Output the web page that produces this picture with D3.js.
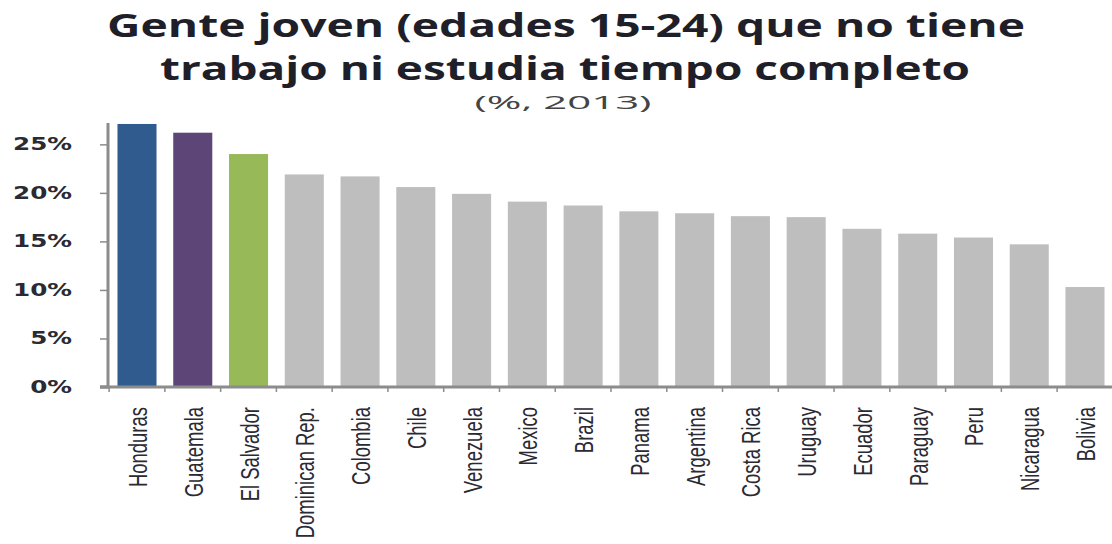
<!DOCTYPE html>
<html>
<head>
<meta charset="utf-8">
<script src="https://cdn.jsdelivr.net/npm/d3@7"></script>
<style>
  body { margin: 0; background: #fff; }
</style>
</head>
<body>
<div id="chart"></div>
<script>
var countries = ['Honduras', 'Guatemala', 'El Salvador', 'Dominican Rep.', 'Colombia', 'Chile',
  'Venezuela', 'Mexico', 'Brazil', 'Panama', 'Argentina', 'Costa Rica', 'Uruguay', 'Ecuador',
  'Paraguay', 'Peru', 'Nicaragua', 'Bolivia'];
var values = [27.1, 26.2, 24.0, 21.9, 21.7, 20.6, 19.9, 19.1, 18.7, 18.1, 17.9, 17.6, 17.5,
  16.3, 15.8, 15.4, 14.7, 10.3];
var yTicks = [0, 5, 10, 15, 20, 25];
var highlight = { 'Honduras': '#2f5b8e', 'Guatemala': '#5d4577', 'El Salvador': '#97b957' };

var width = 1112, height = 544;
var margin = { top: 123, right: 0, bottom: 157, left: 108 };
var axisColor = '#8c8c8c';

var svg = d3.select('#chart')
  .append('svg')
  .attr('width', width)
  .attr('height', height);

// titulo (la imagen original esta estirada a lo ancho, de ahi el textLength)
var title = svg.append('g').attr('fill', '#1f1f2a').attr('text-anchor', 'middle')
  .attr('font-family', 'Open Sans');
title.append('text')
  .attr('x', 566).attr('y', 37)
  .attr('font-weight', 'bold').attr('font-size', 32)
  .attr('textLength', 918).attr('lengthAdjust', 'spacingAndGlyphs')
  .text('Gente joven (edades 15-24) que no tiene');
title.append('text')
  .attr('x', 565).attr('y', 80)
  .attr('font-weight', 'bold').attr('font-size', 32)
  .attr('textLength', 810).attr('lengthAdjust', 'spacingAndGlyphs')
  .text('trabajo ni estudia tiempo completo');
title.append('text')
  .attr('x', 563).attr('y', 109)
  .attr('font-size', 19).attr('fill', '#444')
  .attr('textLength', 177).attr('lengthAdjust', 'spacingAndGlyphs')
  .text('(%, 2013)');

// escalas
var x = d3.scaleBand()
  .domain(countries)
  .range([margin.left, 1114])
  .paddingInner(0.3)
  .paddingOuter(0.17);

var y = d3.scaleLinear()
  .domain([0, 27.2])
  .range([height - margin.bottom, margin.top]);

// barras
svg.selectAll('.bar')
  .data(values)
  .enter().append('rect')
  .attr('class', 'bar')
  .attr('x', function (d, i) { return x(countries[i]); })
  .attr('y', function (d) { return y(d); })
  .attr('width', x.bandwidth())
  .attr('height', function (d) { return y(0) - y(d); })
  .attr('fill', function (d, i) { return highlight[countries[i]] || '#bebebe'; });

// eje y
var yAxis = d3.axisLeft(y)
  .tickValues(yTicks)
  .tickFormat(function (d) { return d + '%'; })
  .tickSize(8)
  .tickPadding(28);
var gy = svg.append('g')
  .attr('transform', 'translate(' + margin.left + ',0)')
  .call(yAxis);
gy.select('.domain').attr('stroke', axisColor).attr('stroke-width', 3)
  .attr('d', 'M-8,' + y(0) + 'H0V' + margin.top);
gy.selectAll('.tick line').attr('stroke', axisColor).attr('stroke-width', 1.5);
gy.selectAll('.tick text')
  .attr('font-family', 'DejaVu Sans').attr('font-weight', 'bold').attr('font-size', 17)
  .attr('fill', '#2a2a33')
  .attr('lengthAdjust', 'spacingAndGlyphs')
  .attr('textLength', function () { return this.getComputedTextLength() * 1.45; });

// eje x
var step = x.step();
var gap = x.paddingInner() * step / 2;
var xAxis = d3.axisBottom(x).tickSize(0).tickPadding(0);
var gx = svg.append('g')
  .attr('transform', 'translate(0,' + y(0) + ')')
  .call(xAxis);
gx.select('.domain').attr('stroke', axisColor).attr('stroke-width', 3)
  .attr('d', 'M' + (margin.left - 8) + ',0H' + width);
gx.selectAll('.sep')
  .data(countries)
  .enter().append('line')
  .attr('class', 'sep')
  .attr('x1', function (d) { return x(d) - gap; })
  .attr('x2', function (d) { return x(d) - gap; })
  .attr('y1', 0).attr('y2', 5)
  .attr('stroke', axisColor).attr('stroke-width', 1.5);
gx.append('line')
  .attr('x1', x(countries[countries.length - 1]) + x.bandwidth() + gap)
  .attr('x2', x(countries[countries.length - 1]) + x.bandwidth() + gap)
  .attr('y1', 0).attr('y2', 5)
  .attr('stroke', axisColor).attr('stroke-width', 1.5);
gx.selectAll('.tick text')
  .attr('font-family', 'Liberation Sans').attr('font-size', 26)
  .attr('fill', '#2a2a33')
  .attr('text-anchor', 'end')
  .attr('dy', '0')
  .attr('y', 0)
  .attr('transform', 'translate(10,20) rotate(-90) scale(0.71,1)');
</script>
</body>
</html>
